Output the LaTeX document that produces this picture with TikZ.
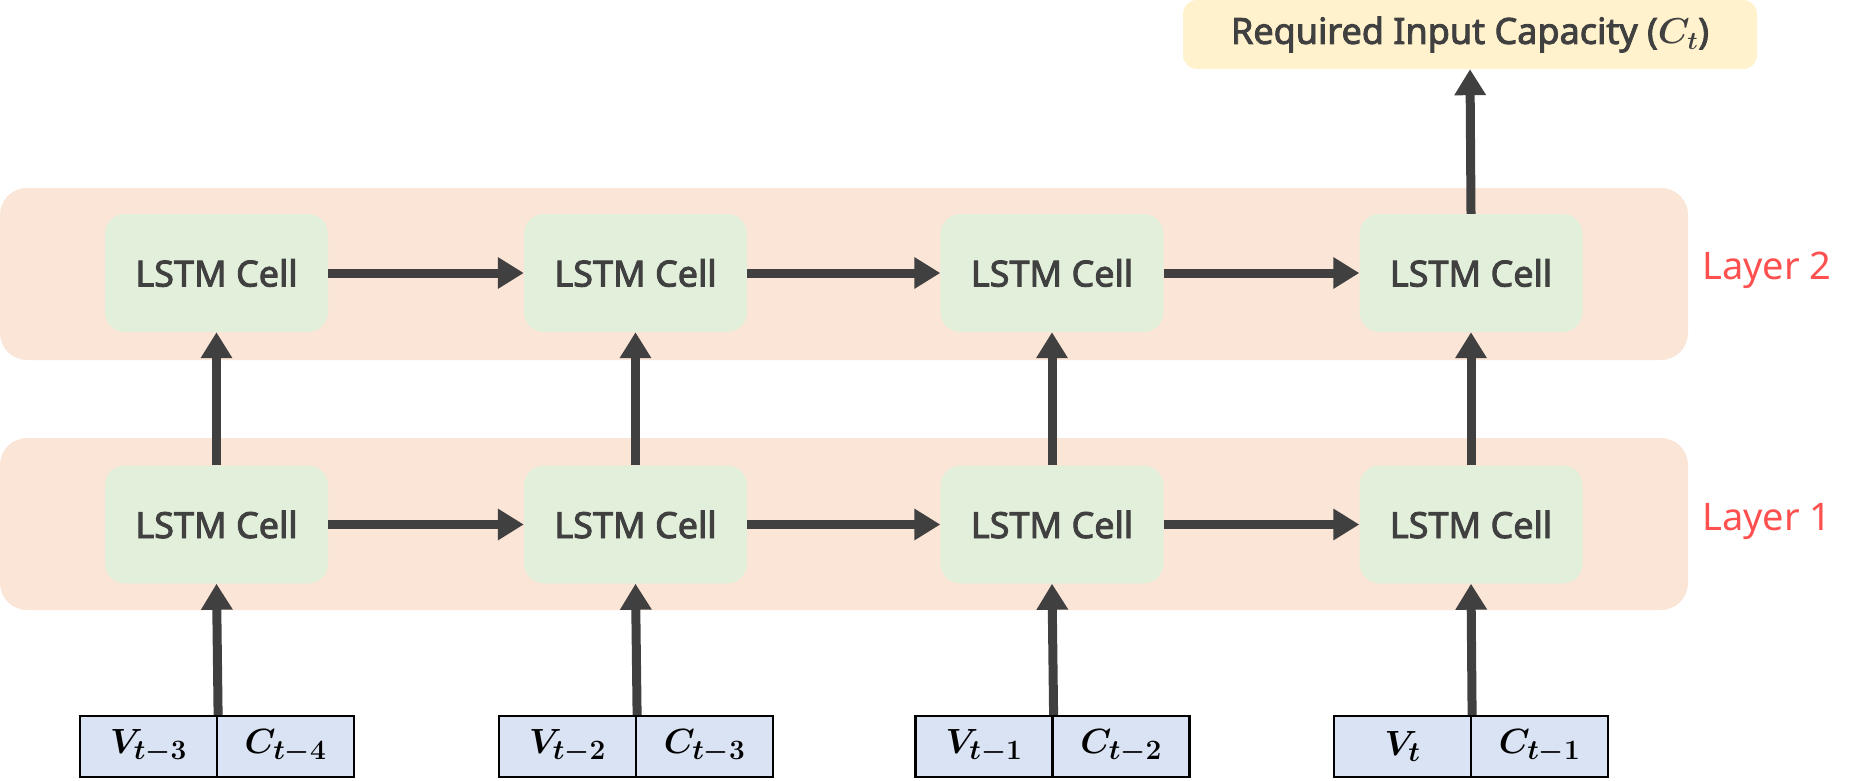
\RequirePackage{fix-cm}
\documentclass[tikz,border=0pt]{standalone}
\usepackage{amsmath}
\usepackage{fontspec}
\setmainfont{Noto Sans}
\newfontfamily\semibf[FakeBold=2.5]{Noto Sans}
\DeclareMathSizes{35}{35}{28}{22}
\usetikzlibrary{arrows.meta}
\definecolor{band}{HTML}{FBE5D6}
\definecolor{cellfill}{HTML}{E2EFDA}
\definecolor{infill}{HTML}{DAE3F3}
\definecolor{outfill}{HTML}{FFF2CC}
\definecolor{ink}{HTML}{404040}
\definecolor{layerred}{HTML}{FF5050}
\tikzset{
  cellbox/.style={fill=cellfill, rounded corners=20pt, minimum width=223pt, minimum height=118pt, inner sep=0pt, text=ink, font=\semibf\fontsize{36}{40}\selectfont},
  inbox/.style={fill=infill, draw=black, line width=2.2pt, minimum width=137pt, minimum height=61pt, inner sep=0pt, font=\fontsize{35}{40}\selectfont\boldmath},
  outbox/.style={fill=outfill, rounded corners=14pt, minimum width=574pt, minimum height=69pt, inner sep=0pt, text=ink, font=\semibf\fontsize{36}{40}\selectfont\boldmath},
  layerlbl/.style={text=layerred, font=\fontsize{38}{42}\selectfont, inner sep=0pt},
  conn/.style={draw=ink, line width=9pt, -{Triangle[length=26pt,width=30pt]}, shorten >=0pt}
}
\begin{document}
\begin{tikzpicture}[x=1pt,y=-1pt]
\useasboundingbox (0,0) rectangle (1866,781);
% bands
\fill[band, rounded corners=27pt] (0,188) rectangle (1688,360);
\fill[band, rounded corners=27pt] (0,438) rectangle (1688,610);
% output
\node[outbox] (out) at (1470,34.5) {Required Input Capacity (\(C_t\))};
% cells
\foreach \i/\x in {1/216.5,2/635.5,3/1052,4/1471}{
  \node[cellbox] (b\i) at (\x,273) {LSTM Cell};
  \node[cellbox] (a\i) at (\x,524.5) {LSTM Cell};
}
% inputs
\node[inbox] (v1) at (148.5,746.5) {$V_{t-3}$};
\node[inbox] (c1) at (285.5,746.5) {$C_{t-4}$};
\node[inbox] (v2) at (567.5,746.5) {$V_{t-2}$};
\node[inbox] (c2) at (704.5,746.5) {$C_{t-3}$};
\node[inbox] (v3) at (984,746.5) {$V_{t-1}$};
\node[inbox] (c3) at (1121,746.5) {$C_{t-2}$};
\node[inbox] (v4) at (1402.5,746.5) {$V_{t}$};
\node[inbox] (c4) at (1539.5,746.5) {$C_{t-1}$};
% layer labels
\node[layerlbl] (l2) at (1767,270) {Layer 2};
\node[layerlbl] (l1) at (1767,521) {Layer 1};
% arrows
\foreach \i in {1,2,3,4}{
  \draw[conn] (v\i.north east) -- (a\i.south);
  \draw[conn] (a\i.north) -- (b\i.south);
}
\foreach \i/\j in {1/2,2/3,3/4}{
  \draw[conn] (a\i.east) -- (a\j.west);
  \draw[conn] (b\i.east) -- (b\j.west);
}
\draw[conn] (b4.north) -- (out.south);
\end{tikzpicture}
\end{document}
